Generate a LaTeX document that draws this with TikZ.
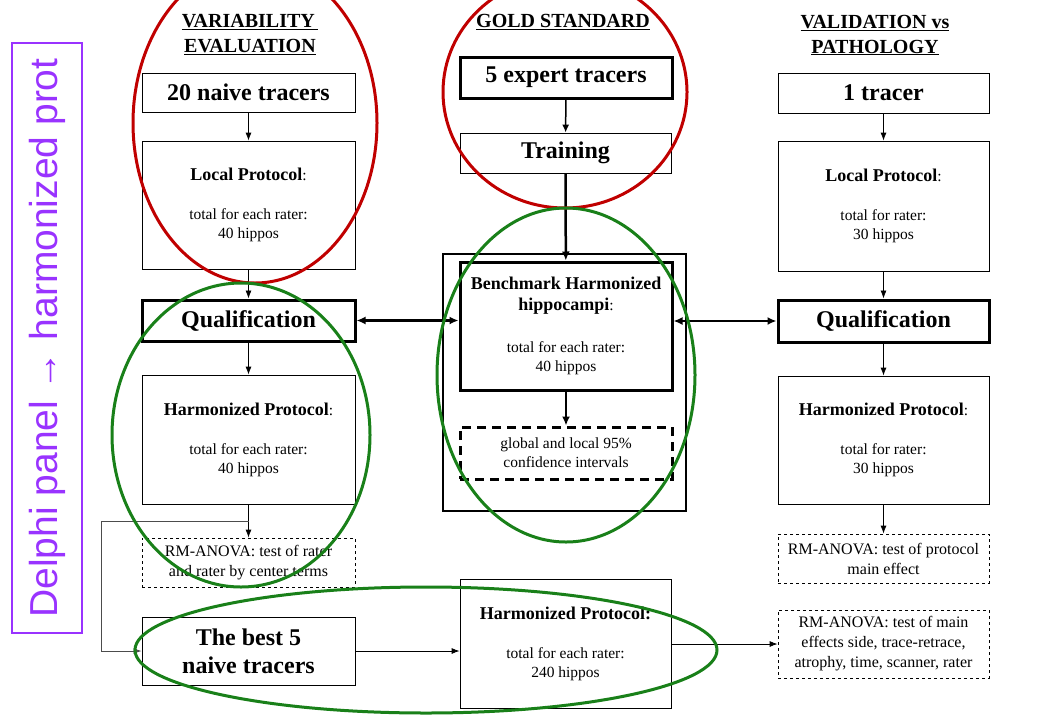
\documentclass[tikz,border=0pt]{standalone}
\usepackage{color}
\usepackage{tikz}
\usepackage{fontspec}
\setmainfont{Liberation Serif}
\newfontfamily\delphifont{Liberation Sans}
\usetikzlibrary{shapes,arrows.meta}
\definecolor{ringred}{RGB}{192,0,0}
\definecolor{ringgreen}{RGB}{25,128,25}
\definecolor{delphipurple}{RGB}{153,51,255}
\newcommand{\hd}[1]{\textbf{\fontsize{18}{21}\selectfont #1}}

\begin{document}
\begin{tikzpicture}[x=1pt,y=-1pt]
      \tikzstyle{every node}=[align=center,inner sep=0pt]
      \tikzstyle{box}=[draw,line width=0.8pt,minimum width=213pt]
      \tikzstyle{bbox}=[box,line width=3pt]
      \tikzstyle{dbox}=[box,dashed]
      \tikzstyle{big}=[font=\fontsize{24}{28}\selectfont\bfseries]
      \tikzstyle{txt}=[font=\fontsize{15.5}{19}\selectfont]
      \tikzstyle{anova}=[font=\fontsize{16}{20}\selectfont]
      \tikzstyle{head}=[font=\fontsize{20}{25}\selectfont\bfseries]
      \tikzstyle{ring}=[line width=3pt]
      \tikzstyle{arr}=[-{Latex[length=8pt,width=6pt]},line width=0.8pt]
      \tikzstyle{barr}=[-{Latex[length=9pt,width=8pt]},line width=2.5pt]
      \useasboundingbox (0,0) rectangle (1040,720);
      \node[draw=delphipurple,text=delphipurple,line width=2.5pt,rotate=90,minimum width=590pt,minimum height=70pt,font=\delphifont\fontsize{39}{46}\selectfont] (delphi) at (47,338) {Delphi panel → harmonized prot};
      \node[head] (var) at (250,35) {\underline{VARIABILITY\,}\\\underline{EVALUATION}};
      \node[head] (gold) at (563,22) {\underline{GOLD STANDARD}};
      \node[head] (valid) at (875,35) {\underline{VALIDATION vs}\\\underline{PATHOLOGY}};
      \node[box,big,minimum height=39pt] (naive) at (248.5,92.5) {20 naive tracers};
      \node[box,txt,minimum height=128pt] (locL) at (248.5,205) {\hd{Local Protocol}:\\[20pt]total for each rater:\\40 hippos};
      \node[bbox,big,minimum height=41pt] (qualL) at (248.5,320.5) {Qualification};
      \node[box,txt,minimum height=129pt] (harmL) at (248.5,439.5) {\hd{Harmonized Protocol}:\\[20pt]total for each rater:\\40 hippos};
      \node[dbox,anova,minimum height=49pt] (anovaL) at (248.5,562.5) {RM-ANOVA: test of rater\\and rater by center terms};
      \node[box,big,minimum height=68pt] (best) at (248.5,651) {The best 5\\naive tracers};
      \node[bbox,big,minimum width=212pt,minimum height=41pt] (expert) at (566,77.5) {5 expert tracers};
      \node[box,big,minimum width=211pt,minimum height=40pt] (training) at (565.5,153) {Training};
      \node[draw,line width=2pt,minimum width=243pt,minimum height=257pt] (frame) at (564.5,382.5) {};
      \node[bbox,txt,minimum width=212pt,minimum height=128pt] (bench) at (566,326) {\hd{Benchmark Harmonized}\\[2pt]\hd{hippocampi}:\\[23pt]total for each rater:\\40 hippos};
      \node[bbox,txt,dash pattern=on 9pt off 6pt,minimum width=212pt,minimum height=52pt] (ci) at (566,453) {global and local 95\%\\confidence intervals};
      \node[box,txt,minimum width=211pt,minimum height=129pt] (harmC) at (565.5,643.5) {\hd{Harmonized Protocol:}\\[20pt]total for each rater:\\240 hippos};
      \node[box,big,minimum width=211pt,minimum height=40pt] (one) at (883.5,93) {1 tracer};
      \node[box,txt,minimum width=211pt,minimum height=130pt] (locR) at (883.5,206) {\hd{Local Protocol}:\\[20pt]total for rater:\\30 hippos};
      \node[bbox,big,minimum width=211pt,minimum height=42pt] (qualR) at (883.5,321) {Qualification};
      \node[box,txt,minimum width=211pt,minimum height=128pt] (harmR) at (883.5,440) {\hd{Harmonized Protocol}:\\[20pt]total for rater:\\30 hippos};
      \node[dbox,anova,minimum width=211pt,minimum height=49pt] (anovaR) at (883.5,558.5) {RM-ANOVA: test of protocol\\main effect};
      \node[dbox,anova,minimum width=211pt,minimum height=68pt] (anovaM) at (883.5,644) {RM-ANOVA: test of main\\effects side, trace-retrace,\\atrophy, time, scanner, rater};
      \foreach \a/\b in {naive/locL,locL/qualL,qualL/harmL,harmL/anovaL,one/locR,locR/qualR,qualR/harmR,harmR/anovaR}
        \draw[arr] (\a) -- (\b);
      \coordinate (split) at (248.5,521);
      \coordinate (loop) at (101,651);
      \draw[arr,black!70] (split) -| (loop) -- (best);
      \draw[arr] (best) -- (best -| harmC.west);
      \draw[arr] (harmC.east |- anovaM) -- (anovaM);
      \draw[-{Latex[length=8pt,width=7pt]},line width=1.5pt] (expert) -- (training);
      \draw[barr] (training) -- (bench);
      \draw[barr] (bench) -- (ci);
      \draw[barr,{Latex[length=9pt,width=8pt]}-{Latex[length=9pt,width=8pt]}] (qualL) -- (qualL -| bench.west);
      \draw[barr,{Latex[length=9pt,width=8pt]}-{Latex[length=9pt,width=8pt]}] (qualR -| bench.east) -- (qualR);
      \draw[ring,ringred] (255,123) ellipse [x radius=122pt,y radius=160pt];
      \draw[ring,ringred] (565,92) ellipse [x radius=122pt,y radius=116pt];
      \draw[ring,ringgreen] (241,435) ellipse [x radius=129pt,y radius=152pt];
      \draw[ring,ringgreen] (566,375) ellipse [x radius=129pt,y radius=167pt];
      \draw[ring,ringgreen] (426,650) ellipse [x radius=291pt,y radius=63pt];
\end{tikzpicture}
\end{document}
